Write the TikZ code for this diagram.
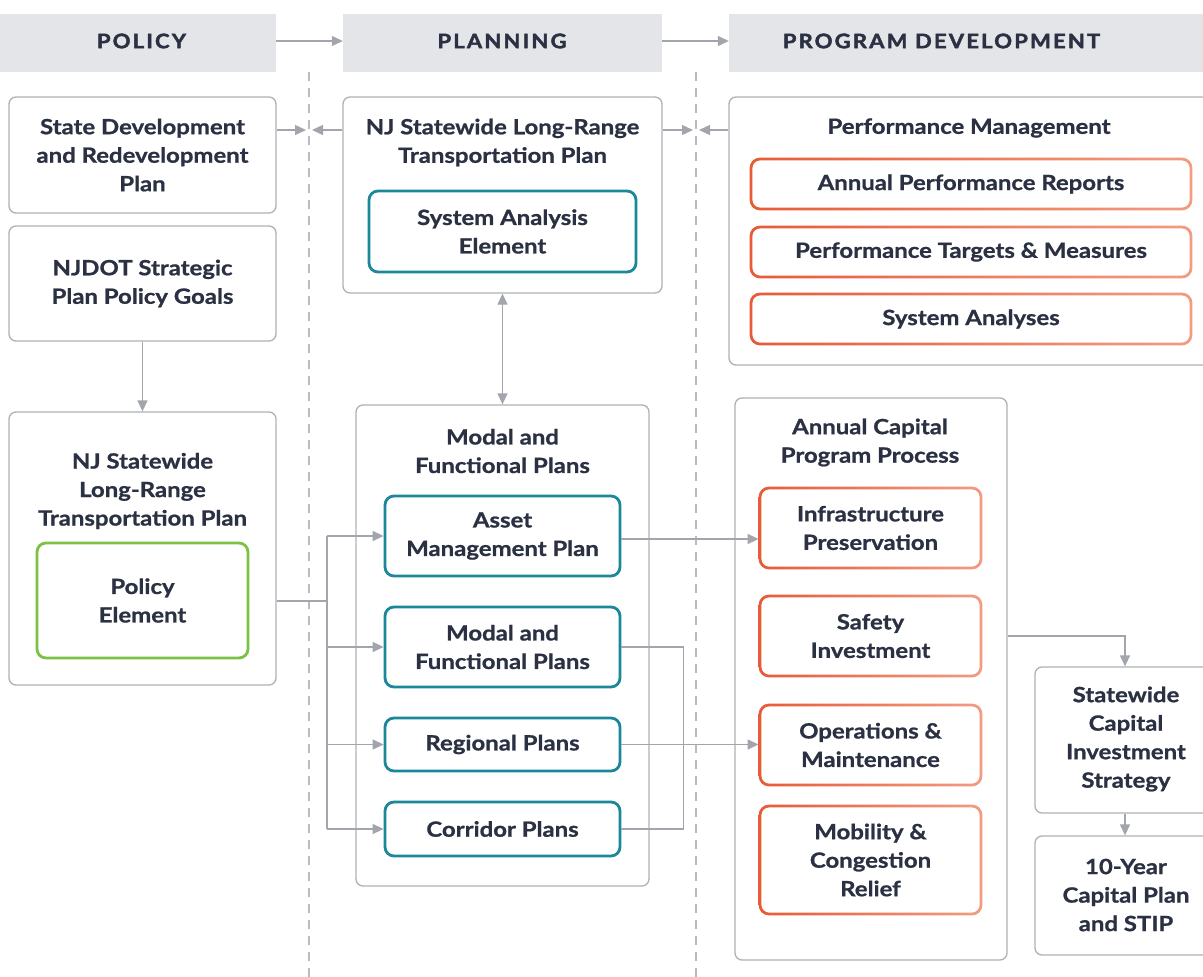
\documentclass[tikz,border=0pt]{standalone}
\usepackage{fontspec}
\setmainfont{Lato}[BoldFeatures={FakeStretch=1.14,FakeBold=0.9}]
\newfontfamily\hdrfont{Lato}[LetterSpace=11,BoldFeatures={FakeStretch=1.1,FakeBold=2.2}]
\usetikzlibrary{arrows.meta}

\definecolor{ink}{HTML}{2B3142}
\definecolor{hdr}{HTML}{E4E5E8}
\definecolor{edge}{HTML}{AEB1B6}
\definecolor{wire}{HTML}{A2A5AB}
\definecolor{dash}{HTML}{B9BCC1}
\definecolor{tealc}{HTML}{1B879B}
\definecolor{coralA}{HTML}{E85A38}
\definecolor{coralB}{HTML}{F29C82}
\definecolor{leaf}{HTML}{7CC144}

\tikzset{
  box/.style={draw=edge, line width=1.3pt, rounded corners=7pt, fill=white,
    inner sep=0pt, text=ink, align=center,
    font=\bfseries\fontsize{21}{28.5}\selectfont},
  title/.style={inner sep=0pt, text=ink, align=center,
    font=\bfseries\fontsize{21}{28.5}\selectfont},
  tealbox/.style={box, draw=tealc, line width=2.8pt, rounded corners=9pt},
  coralbox/.style={box, draw=none, outer sep=0pt},
  leafbox/.style={box, draw=leaf, line width=2.8pt, rounded corners=9pt},
  bar/.style={fill=hdr, inner sep=0pt, minimum height=58pt},
  bartext/.style={inner sep=0pt, text=ink, font=\hdrfont\bfseries\fontsize{20}{24}\selectfont},
  wire/.style={draw=wire, line width=1.3pt},
  tip/.style={-{Triangle[length=11pt,width=10pt]}},
  tips/.style={{Triangle[length=11pt,width=10pt]}-{Triangle[length=11pt,width=10pt]}},
  lane/.style={draw=dash, line width=1.3pt, dash pattern=on 9pt off 7pt},
}

% shaded coral outline (dark on the left, fading to the right) around a node
\newcommand\coralring[1]{%
  \shade[left color=coralA, right color=coralB, even odd rule, rounded corners=10.4pt]
    ([xshift=-1.4pt,yshift=1.4pt]#1.north west) rectangle ([xshift=1.4pt,yshift=-1.4pt]#1.south east)
    [rounded corners=7.6pt]
    ([xshift=1.4pt,yshift=-1.4pt]#1.north west) rectangle ([xshift=-1.4pt,yshift=1.4pt]#1.south east);}

\begin{document}
\begin{tikzpicture}[x=1pt,y=-1pt]
\useasboundingbox (0,0) rectangle (1203,977);
\clip (0,0) rectangle (1203,977);
\fill[white] (0,0) rectangle (1203,977);

% column headers
\node[bar, minimum width=276pt] (hpol) at (138,43) {};
\node[bar, minimum width=319pt] (hplan) at (502.5,43) {};
\node[bar, minimum width=490pt] (hprog) at (974,43) {};
\node[bartext] (tpol) at (141.5,41) {POLICY};
\node[bartext] (tplan) at (502,41) {PLANNING};
\node[bartext] (tprog) at (941.5,41) {PROGRAM DEVELOPMENT};
\draw[wire,tip] (hpol.east |- tpol) -- (hplan.west |- tpol);
\draw[wire,tip] (hplan.east |- tplan) -- (hprog.west |- tplan);

% lane separators
\coordinate (l1a) at (309,72);  \coordinate (l1b) at (309,977);
\coordinate (l2a) at (696,72);  \coordinate (l2b) at (696,977);
\draw[lane] (l1a) -- (l1b);
\draw[lane] (l2a) -- (l2b);

% policy column
\node[box, minimum width=267pt, minimum height=116pt] (sdrp) at (142.5,155)
  {State Development\\and Redevelopment\\Plan};
\node[box, minimum width=267pt, minimum height=115pt] (goals) at (142.5,283.5)
  {NJDOT Strategic\\Plan Policy Goals};
\node[box, minimum width=267pt, minimum height=273pt] (lrtpL) at (142.5,548.5) {};
\node[title] (lrtpLt) at (142.5,491) {NJ Statewide\\Long-Range\\Transportation Plan};
\node[leafbox, minimum width=211pt, minimum height=115pt] (polel) at (142.5,600.5)
  {Policy\\Element};

% planning column
\node[box, minimum width=319pt, minimum height=196pt] (lrtpP) at (502.5,195) {};
\node[title] (lrtpPt) at (502.5,142.5) {NJ Statewide Long-Range\\Transportation Plan};
\node[tealbox, minimum width=267pt, minimum height=81pt] (sae) at (502.5,231.5)
  {System Analysis\\Element};
\node[box, minimum width=293pt, minimum height=481pt] (mfp) at (502.5,645.5) {};
\node[title] (mfpt) at (502.5,451) {Modal and\\Functional Plans};
\node[tealbox, minimum width=235pt, minimum height=80pt] (amp) at (502.5,536)
  {Asset\\Management Plan};
\node[tealbox, minimum width=235pt, minimum height=80pt] (mfp2) at (502.5,647)
  {Modal and\\Functional Plans};
\node[tealbox, minimum width=235pt, minimum height=53pt] (reg) at (502.5,744.5)
  {Regional Plans};
\node[tealbox, minimum width=235pt, minimum height=54pt] (cor) at (502.5,829)
  {Corridor Plans};

% program development column
\node[box, minimum width=486pt, minimum height=268pt] (perf) at (972,231) {};
\node[title] (perft) at (969,128) {Performance Management};
\node[coralbox, minimum width=440pt, minimum height=50pt] (apr) at (971,184)
  {Annual Performance Reports};
\node[coralbox, minimum width=440pt, minimum height=50pt] (ptm) at (971,252)
  {Performance Targets \& Measures};
\node[coralbox, minimum width=440pt, minimum height=50pt] (sa) at (971,319)
  {System Analyses};
\node[box, minimum width=272pt, minimum height=562pt] (acp) at (871,679) {};
\node[title] (acpt) at (870,442.5) {Annual Capital\\Program Process};
\node[coralbox, minimum width=221pt, minimum height=80pt] (ip) at (870.5,528)
  {Infrastructure\\Preservation};
\node[coralbox, minimum width=221pt, minimum height=80pt] (si) at (870.5,636)
  {Safety\\Investment};
\node[coralbox, minimum width=221pt, minimum height=80pt] (om) at (870.5,745)
  {Operations \&\\Maintenance};
\node[coralbox, minimum width=221pt, minimum height=108pt] (mcr) at (870.5,860)
  {Mobility \&\\Congestion\\Relief};
\coralring{apr} \coralring{ptm} \coralring{sa}
\coralring{ip} \coralring{si} \coralring{om} \coralring{mcr}
\node[box, minimum width=180pt, minimum height=146pt] (scis) at (1125,740) {};
\node[title] (scist) at (1126,739) {Statewide\\Capital\\Investment\\Strategy};
\node[box, minimum width=180pt, minimum height=119pt] (tenyr) at (1125,895.5) {};
\node[title] (tenyrt) at (1126,895) {10-Year\\Capital Plan\\and STIP};

% links across lanes
\coordinate (m1) at (309,130);
\coordinate (m2) at (696,130);
\draw[wire,tip] (sdrp.east |- m1) -- ([xshift=-3pt]m1);
\draw[wire,tip] (lrtpP.west |- m1) -- ([xshift=3pt]m1);
\draw[wire,tip] (lrtpP.east |- m2) -- ([xshift=-3pt]m2);
\draw[wire,tip] (perf.west |- m2) -- ([xshift=3pt]m2);
\draw[wire,tips] (lrtpP.south) -- (mfp.north);
\draw[wire,tip] (goals.south) -- (lrtpL.north);

% bus from the policy plan to the modal plans
\coordinate (bus) at (327,601);
\draw[wire] (lrtpL.east |- bus) -- (bus);
\draw[wire] (bus |- amp.west) -- (bus |- cor.west);
\draw[wire,tip] (bus |- amp.west) -- (amp.west);
\draw[wire,tip] (bus |- mfp2.west) -- (mfp2.west);
\draw[wire,tip] (bus |- reg.west) -- (reg.west);
\draw[wire,tip] (bus |- cor.west) -- (cor.west);

% modal and corridor plans tied together
\draw[wire] (mfp2.east) -- ++(62,0) |- (cor.east);

% planning feeds capital programme
\draw[wire,tip] ([yshift=-3pt]amp.east) -- ([xshift=-1.4pt,yshift=-3pt]amp.east -| ip.west);
\draw[wire,tip] (reg.east) -- ([xshift=-1.4pt]reg.east -| om.west);
\draw[wire,tip] (acp.east |- si) -| (scis.north);
\draw[wire,tip] (scis.south) -- (tenyr.north);
\end{tikzpicture}
\end{document}
